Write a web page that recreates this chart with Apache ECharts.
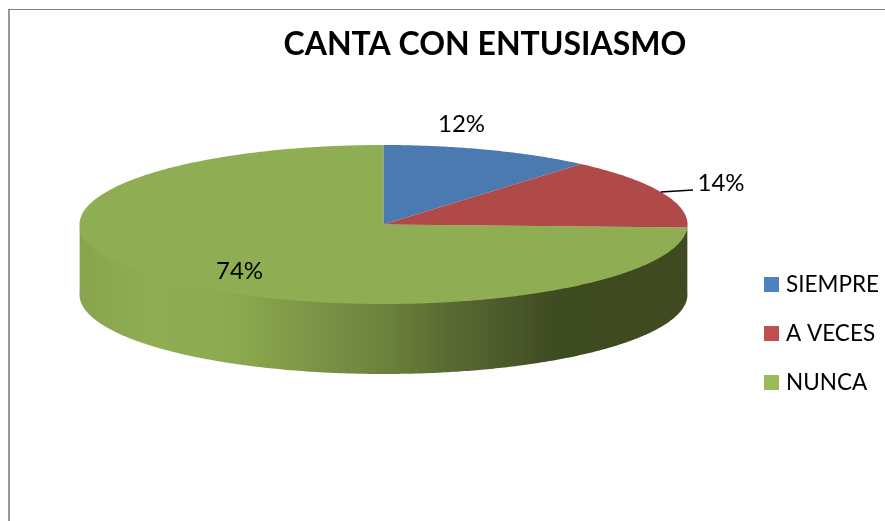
<!DOCTYPE html>
<html>
<head>
<meta charset="utf-8">
<style>html,body{margin:0;padding:0;background:#fff}#c{width:885px;height:521px}</style>
<script src="https://cdn.jsdelivr.net/npm/echarts@6/dist/echarts.min.js"></script>
</head>
<body>
<div id="c"></div>
<script>
const titleText = 'CANTA CON ENTUSIASMO';
const categories = ['SIEMPRE', 'A VECES', 'NUNCA'];
const shares = [12, 14, 74];
const legendColors = ['#4f81bd', '#c0504d', '#9bbb59'];
const topColors = ['#4a7ab0', '#b04a48', '#8fae53'];
const wallStops = [
  [0, '#88a44c'], [0.12, '#8fae53'], [0.25, '#8cab50'], [0.313, '#84a04a'], [0.407, '#7a9046'],
  [0.516, '#6a7f3a'], [0.605, '#5a6a33'], [0.713, '#4a5829'], [0.786, '#3e4a20'], [1, '#3f4a21']
];
const font = 'Lato';

// pie layout (pixels)
const cx = 383.5, cy = 224.5, rx = 304, ry = 79.5, depth = 70;
const labelAt = [[461.5, 124], [721, 183], [239.5, 271]];
const leaderEnd = [[null], [693, 190], [null]];
// small angular warp standing in for the 3-D view's perspective (radians)
const warp1 = 0.028, warp2 = 0.028;

const total = shares.reduce((a, b) => a + b, 0);
const ang = s => s / total * 2 * Math.PI;           // clockwise from 12 o'clock
const view = a => a - warp1 * Math.sin(a) - warp2 * Math.sin(2 * a);
const pt = (a, dy) => [cx + rx * Math.sin(view(a)), cy - ry * Math.cos(view(a)) + (dy || 0)];
function arc(a0, a1, dy) {
  const n = Math.max(2, Math.ceil((a1 - a0) / 0.01)), out = [];
  for (let i = 0; i <= n; i++) out.push(pt(a0 + (a1 - a0) * i / n, dy));
  return out;
}

function makeRender(idx) {
  return function (params, api) {
    const start = api.value(0), val = api.value(1);
    const a0 = ang(start), a1 = ang(start + val), children = [];
    // front wall: visible part of the rim between 3 and 9 o'clock
    const w0 = Math.max(a0, Math.PI / 2), w1 = Math.min(a1, 3 * Math.PI / 2);
    if (w1 > w0) {
      const upper = arc(w0, w1, -1), lower = arc(w0, w1, depth).reverse();
      children.push({
        type: 'polygon',
        shape: { points: upper.concat(lower) },
        style: {
          fill: {
            type: 'linear', x: 1, y: 0, x2: 0, y2: 0,
            colorStops: wallStops.map(s => ({ offset: 1 - s[0], color: s[1] }))
          }
        }
      });
    }
    // top face
    children.push({
      type: 'polygon',
      shape: { points: [[cx, cy]].concat(arc(a0, a1, 0)) },
      style: { fill: topColors[idx] }
    });
    // leader line
    const le = leaderEnd[idx];
    if (le.length === 2) {
      children.push({
        type: 'polyline',
        shape: { points: [pt((a0 + a1) / 2), le] },
        style: { stroke: '#000', lineWidth: 1.5, fill: null }
      });
    }
    // value label
    children.push({
      type: 'text',
      style: {
        x: labelAt[idx][0], y: labelAt[idx][1],
        text: val + '%',
        fill: '#000', font: '24px ' + font,
        align: 'center', verticalAlign: 'middle'
      }
    });
    return { type: 'group', children };
  };
}

let running = 0;
const series = categories.map((name, i) => {
  const s = {
    type: 'custom',
    name,
    coordinateSystem: 'none',
    z: i === 2 ? 1 : 2,
    itemStyle: { color: legendColors[i] },
    renderItem: makeRender(i),
    data: [[running, shares[i]]]
  };
  running += shares[i];
  return s;
});

const chart = echarts.init(document.getElementById('c'), null, { renderer: 'canvas' });
chart.setOption({
  animation: false,
  backgroundColor: '#fff',
  title: {
    text: titleText,
    left: 485, top: 29, textAlign: 'center',
    textStyle: { fontFamily: font, fontWeight: 'bold', fontSize: 32, color: '#000', align: 'center' },
    padding: 0
  },
  legend: {
    data: categories,
    orient: 'vertical',
    left: 764, top: 273, padding: 0,
    icon: 'rect',
    itemWidth: 15, itemHeight: 15, itemGap: 26,
    selectedMode: false,
    textStyle: { fontFamily: font, fontSize: 22.5, color: '#000', padding: [0, 0, 0, 2] }
  },
  graphic: [
    { type: 'rect', shape: { x: 8, y: 9, width: 2, height: 512 }, style: { fill: '#9a9a9a' }, silent: true },
    { type: 'rect', shape: { x: 8, y: 9, width: 877, height: 1 }, style: { fill: '#808080' }, silent: true }
  ],
  series
});
</script>
</body>
</html>
